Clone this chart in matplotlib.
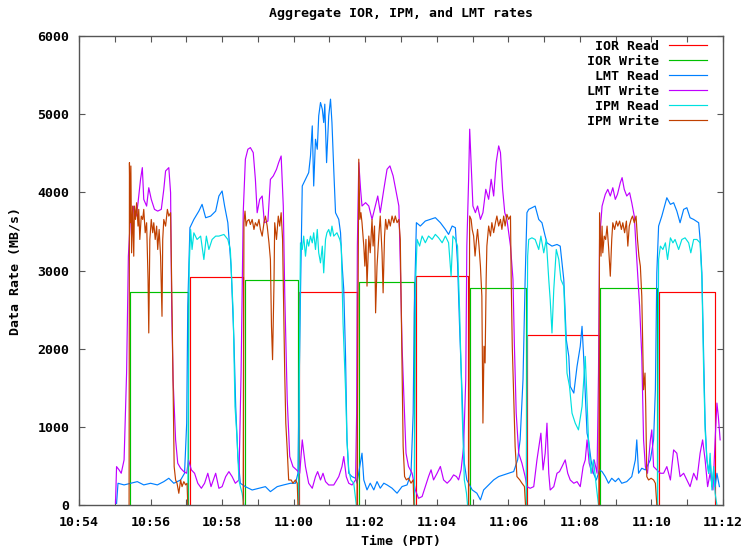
import numpy as np
import pandas as pd
import matplotlib
matplotlib.use('Agg')
import matplotlib.pyplot as plt
import matplotlib.dates as mdates

# time axis: minutes after 10:54
start = pd.Timestamp('2010-06-01 10:54:00')

# IOR aggregate rates are flat steps (start, end, MB/s)
ior_read_start = [3.10, 6.16, 9.41, 12.52, 16.21]
ior_read_end = [4.59, 7.77, 10.86, 14.54, 17.78]
ior_read_rate = [2914, 2720, 2927, 2179, 2731]

ior_write_start = [1.42, 4.63, 7.82, 10.92, 14.57]
ior_write_end = [3.04, 6.12, 9.36, 12.48, 16.15]
ior_write_rate = [2731, 2880, 2855, 2778, 2778]

# LMT server-side rates (minute, MB/s)
lmt_read = [
    (1.05, 20), (1.09, 278), (1.26, 257), (1.44, 278), (1.63, 299), (1.81, 257), (2.00, 278),
    (2.19, 257), (2.37, 299), (2.51, 342), (2.65, 278), (2.84, 320), (2.95, 406), (3.01, 1047),
    (3.04, 2542), (3.10, 3547), (3.21, 3653), (3.35, 3760), (3.44, 3846), (3.54, 3675), (3.68, 3696),
    (3.82, 3760), (3.91, 3953), (4.00, 4017), (4.07, 3824), (4.16, 3611), (4.25, 3055), (4.33, 2115),
    (4.38, 1261), (4.44, 620), (4.51, 278), (4.65, 235), (4.84, 192), (5.03, 214), (5.21, 235),
    (5.35, 171), (5.54, 235), (5.72, 257), (5.91, 278), (6.05, 278), (6.12, 406), (6.17, 2115),
    (6.24, 4081), (6.33, 4166), (6.42, 4252), (6.47, 4465), (6.52, 4850), (6.56, 4081), (6.61, 4679),
    (6.66, 4551), (6.70, 4978), (6.75, 5149), (6.80, 5064), (6.84, 4893), (6.87, 5128), (6.92, 4380),
    (6.98, 4978), (7.03, 5192), (7.07, 4893), (7.12, 4295), (7.17, 3739), (7.26, 3654), (7.31, 3483),
    (7.35, 3098), (7.40, 2756), (7.45, 1902), (7.49, 833), (7.54, 406), (7.63, 363), (7.73, 342),
    (7.77, 279), (7.91, 663), (7.96, 321), (8.05, 193), (8.14, 279), (8.24, 193), (8.33, 300),
    (8.42, 215), (8.52, 279), (8.61, 257), (8.75, 215), (8.89, 151), (9.03, 236), (9.17, 257),
    (9.28, 407), (9.34, 1176), (9.37, 2458), (9.43, 3612), (9.54, 3569), (9.68, 3633), (9.82, 3654),
    (9.96, 3676), (10.10, 3612), (10.24, 3526), (10.33, 3462), (10.43, 3569), (10.52, 3548),
    (10.58, 3099), (10.64, 2244), (10.71, 1390), (10.77, 535), (10.84, 321), (10.99, 193),
    (11.12, 151), (11.22, 65), (11.31, 193), (11.45, 257), (11.59, 321), (11.73, 364), (11.87, 385),
    (12.01, 407), (12.15, 428), (12.26, 578), (12.33, 834), (12.41, 1603), (12.47, 2885),
    (12.52, 3740), (12.57, 3782), (12.66, 3803), (12.75, 3824), (12.85, 3653), (12.94, 3611),
    (13.03, 3440), (13.08, 3354), (13.22, 3312), (13.36, 3333), (13.45, 3312), (13.55, 2884),
    (13.62, 2115), (13.69, 1901), (13.73, 1517), (13.83, 1432), (13.92, 1773), (14.01, 2030),
    (14.06, 2286), (14.10, 1944), (14.15, 1432), (14.20, 919), (14.24, 833), (14.31, 577),
    (14.38, 406), (14.46, 320), (14.55, 449), (14.62, 427), (14.71, 363), (14.80, 278), (14.89, 342),
    (14.99, 299), (15.08, 342), (15.17, 278), (15.31, 299), (15.45, 363), (15.55, 577), (15.59, 833),
    (15.64, 406), (15.73, 470), (15.83, 449), (15.97, 577), (16.06, 833), (16.11, 1474), (16.15, 2970),
    (16.20, 3568), (16.29, 3696), (16.43, 3931), (16.53, 3846), (16.62, 3867), (16.71, 3760),
    (16.80, 3611), (16.90, 3782), (16.99, 3803), (17.08, 3675), (17.18, 3653), (17.32, 3611),
    (17.36, 3397), (17.41, 2970), (17.46, 1901), (17.50, 1047), (17.55, 577), (17.60, 406),
    (17.64, 577), (17.69, 235), (17.74, 449), (17.78, 235), (17.83, 406), (17.90, 235),
]

lmt_write = [
    (1.02, 22), (1.05, 491), (1.12, 449), (1.18, 406), (1.26, 577), (1.33, 1688), (1.38, 3183),
    (1.44, 3696), (1.49, 3653), (1.53, 3824), (1.60, 3696), (1.65, 3867), (1.72, 4166), (1.77, 4316),
    (1.81, 3910), (1.89, 3824), (1.95, 4059), (2.02, 3910), (2.11, 3782), (2.20, 3760), (2.30, 3782),
    (2.37, 4038), (2.42, 4273), (2.51, 4316), (2.56, 3995), (2.59, 2542), (2.63, 1602), (2.70, 833),
    (2.76, 534), (2.84, 470), (2.93, 427), (3.01, 406), (3.06, 577), (3.14, 449), (3.23, 406),
    (3.32, 278), (3.42, 214), (3.51, 278), (3.60, 406), (3.69, 235), (3.82, 406), (3.91, 214),
    (4.00, 235), (4.10, 363), (4.19, 427), (4.28, 363), (4.37, 278), (4.47, 320), (4.53, 1688),
    (4.59, 3739), (4.65, 4423), (4.72, 4551), (4.79, 4572), (4.87, 4508), (4.93, 4166), (4.98, 3739),
    (5.05, 3910), (5.12, 3953), (5.18, 3611), (5.28, 3632), (5.35, 4166), (5.43, 4209), (5.52, 4294),
    (5.58, 4380), (5.65, 4465), (5.71, 3824), (5.75, 2713), (5.82, 1346), (5.89, 620), (5.98, 491),
    (6.08, 449), (6.17, 406), (6.24, 833), (6.33, 491), (6.42, 278), (6.52, 214), (6.61, 363),
    (6.67, 427), (6.75, 320), (6.82, 406), (6.89, 299), (6.98, 256), (7.12, 256), (7.26, 363),
    (7.35, 491), (7.40, 620), (7.47, 363), (7.54, 278), (7.63, 256), (7.73, 320), (7.76, 1176),
    (7.78, 3313), (7.82, 4381), (7.87, 4039), (7.91, 3825), (8.01, 3868), (8.10, 3825), (8.19, 3654),
    (8.28, 3825), (8.35, 3953), (8.42, 3740), (8.52, 4039), (8.61, 4295), (8.69, 4338), (8.78, 4210),
    (8.87, 3996), (8.94, 3825), (8.98, 3099), (9.03, 2031), (9.08, 1390), (9.14, 663), (9.21, 493),
    (9.31, 407), (9.40, 193), (9.49, 86), (9.59, 108), (9.68, 236), (9.77, 364), (9.84, 450),
    (9.91, 321), (10.01, 407), (10.10, 493), (10.19, 321), (10.29, 279), (10.38, 321), (10.47, 385),
    (10.55, 364), (10.61, 321), (10.68, 450), (10.75, 749), (10.81, 1603), (10.84, 3313),
    (10.89, 4167), (10.92, 4808), (10.96, 4381), (11.01, 3825), (11.08, 3740), (11.14, 3825),
    (11.22, 3654), (11.29, 3740), (11.37, 4039), (11.45, 3911), (11.52, 4167), (11.59, 3953),
    (11.66, 4381), (11.73, 4594), (11.78, 4509), (11.84, 4039), (11.90, 3740), (11.96, 3654),
    (12.06, 3313), (12.13, 2885), (12.17, 2031), (12.22, 1176), (12.29, 663), (12.38, 535),
    (12.47, 364), (12.52, 235), (12.61, 214), (12.71, 235), (12.80, 577), (12.88, 833), (12.91, 919),
    (12.97, 449), (13.03, 662), (13.08, 1047), (13.13, 406), (13.17, 192), (13.27, 235), (13.36, 406),
    (13.43, 427), (13.50, 491), (13.59, 577), (13.66, 406), (13.73, 320), (13.83, 278), (13.92, 299),
    (14.01, 235), (14.09, 491), (14.15, 577), (14.20, 833), (14.26, 534), (14.34, 406), (14.40, 577),
    (14.48, 406), (14.52, 1688), (14.55, 3397), (14.62, 3824), (14.71, 3974), (14.78, 4038),
    (14.85, 3953), (14.92, 4059), (14.99, 3910), (15.05, 3974), (15.13, 4124), (15.18, 4188),
    (15.24, 4038), (15.31, 3953), (15.39, 3995), (15.45, 3867), (15.52, 3696), (15.59, 3141),
    (15.67, 2542), (15.73, 1901), (15.78, 833), (15.83, 491), (15.89, 406), (15.97, 833), (16.01, 961),
    (16.06, 491), (16.15, 449), (16.25, 406), (16.34, 406), (16.43, 491), (16.53, 320), (16.62, 705),
    (16.71, 662), (16.80, 363), (16.90, 406), (16.99, 320), (17.08, 235), (17.18, 406), (17.27, 320),
    (17.36, 662), (17.43, 833), (17.50, 577), (17.57, 235), (17.64, 406), (17.72, 192), (17.78, 833),
    (17.83, 1304), (17.87, 1132), (17.90, 961), (17.92, 833),
]

# IPM client-side rates (minute, MB/s)
ipm_read = [
    (3.04, 0), (3.08, 3055), (3.12, 3525), (3.16, 3269), (3.21, 3482), (3.30, 3397), (3.40, 3440),
    (3.49, 3141), (3.56, 3440), (3.63, 3269), (3.72, 3397), (3.82, 3440), (3.91, 3440), (4.05, 3461),
    (4.16, 3397), (4.23, 3269), (4.31, 2457), (4.36, 1261), (4.42, 833), (4.47, 320), (4.51, 235),
    (4.56, 150), (4.61, 0),
    (6.14, 0), (6.17, 2329), (6.19, 3354), (6.24, 3269), (6.28, 3440), (6.33, 3183), (6.38, 3397),
    (6.42, 3312), (6.47, 3440), (6.52, 3354), (6.56, 3483), (6.61, 3269), (6.66, 3525), (6.70, 3226),
    (6.75, 3098), (6.80, 3312), (6.84, 2970), (6.89, 3397), (6.93, 3483), (6.98, 3525), (7.03, 3440),
    (7.07, 3568), (7.12, 3440), (7.21, 3483), (7.29, 3397), (7.33, 3312), (7.38, 2329), (7.45, 1474),
    (7.49, 833), (7.54, 449), (7.60, 320), (7.68, 278), (7.75, 0),
    (9.37, 0), (9.41, 2885), (9.45, 3398), (9.52, 3313), (9.59, 3441), (9.68, 3355), (9.77, 3441),
    (9.87, 3398), (9.96, 3462), (10.05, 3419), (10.15, 3355), (10.24, 3441), (10.33, 3355),
    (10.40, 2928), (10.45, 3441), (10.52, 3398), (10.58, 3313), (10.64, 2458), (10.71, 1176),
    (10.77, 321), (10.83, 151), (10.86, 0),
    (12.50, 0), (12.54, 3183), (12.57, 3397), (12.66, 3418), (12.75, 3397), (12.85, 3269),
    (12.91, 3440), (12.99, 3226), (13.06, 3397), (13.13, 2884), (13.17, 2628), (13.22, 2201),
    (13.27, 2756), (13.34, 3269), (13.41, 3141), (13.47, 2884), (13.55, 2799), (13.64, 1688),
    (13.71, 1517), (13.78, 1175), (13.87, 1047), (13.96, 961), (14.06, 1261), (14.15, 1901),
    (14.20, 1346), (14.24, 833), (14.31, 406), (14.38, 577), (14.46, 235), (14.52, 0),
    (16.17, 0), (16.20, 3141), (16.25, 3312), (16.32, 3269), (16.39, 3354), (16.45, 3141),
    (16.53, 3418), (16.60, 3354), (16.66, 3397), (16.76, 3269), (16.85, 3397), (16.94, 3418),
    (17.04, 3354), (17.10, 3226), (17.18, 3397), (17.27, 3397), (17.36, 3354), (17.41, 2884),
    (17.46, 1688), (17.50, 961), (17.55, 577), (17.60, 406), (17.64, 662), (17.69, 192), (17.74, 491),
    (17.78, 150), (17.83, 0),
]

ipm_write = [
    (1.40, 0), (1.41, 4380), (1.43, 3611), (1.45, 4337), (1.47, 3226), (1.50, 3824), (1.53, 3183),
    (1.55, 3824), (1.58, 3653), (1.61, 3867), (1.65, 3568), (1.67, 3782), (1.70, 3397), (1.74, 3696),
    (1.78, 3653), (1.81, 3782), (1.85, 3483), (1.89, 3611), (1.93, 2884), (1.95, 2201), (1.98, 3397),
    (2.02, 3653), (2.06, 3483), (2.09, 3611), (2.13, 3397), (2.17, 3568), (2.20, 3269), (2.24, 3525),
    (2.28, 3183), (2.32, 2414), (2.34, 3397), (2.37, 3653), (2.42, 3568), (2.47, 3782), (2.51, 3696),
    (2.56, 3739), (2.60, 2542), (2.63, 1474), (2.66, 491), (2.70, 320), (2.74, 278), (2.79, 150),
    (2.84, 320), (2.88, 235), (2.93, 299), (2.98, 257), (3.02, 278), (3.04, 0),
    (4.59, 0), (4.61, 3611), (4.64, 3760), (4.67, 3568), (4.70, 3632), (4.75, 3653), (4.79, 3589),
    (4.84, 3653), (4.89, 3525), (4.93, 3611), (4.98, 3568), (5.03, 3653), (5.07, 3525), (5.12, 3440),
    (5.17, 3611), (5.21, 3696), (5.26, 3568), (5.31, 3354), (5.35, 3141), (5.38, 2286), (5.41, 1859),
    (5.45, 2842), (5.47, 3611), (5.52, 3397), (5.57, 3696), (5.61, 3568), (5.65, 3739), (5.69, 3397),
    (5.72, 2542), (5.75, 1688), (5.78, 1047), (5.82, 705), (5.86, 320), (5.93, 320), (5.98, 278),
    (6.05, 320), (6.10, 278), (6.12, 0),
    (7.77, 0), (7.82, 4424), (7.85, 3654), (7.88, 3740), (7.91, 3612), (7.96, 3313), (7.99, 3056),
    (8.02, 3398), (8.05, 2800), (8.10, 3441), (8.14, 3227), (8.19, 3654), (8.22, 3313), (8.26, 3569),
    (8.29, 2458), (8.33, 3056), (8.38, 3441), (8.42, 3697), (8.47, 3227), (8.50, 2714), (8.54, 3441),
    (8.57, 3654), (8.61, 3526), (8.66, 3654), (8.70, 3569), (8.75, 3697), (8.80, 3612), (8.84, 3697),
    (8.89, 3612), (8.94, 3654), (8.98, 3398), (9.02, 2031), (9.06, 749), (9.10, 364), (9.15, 321),
    (9.21, 343), (9.28, 279), (9.34, 321), (9.36, 0),
    (10.89, 0), (10.92, 3697), (10.96, 3654), (10.99, 3526), (11.03, 3441), (11.07, 3185),
    (11.11, 3398), (11.14, 3526), (11.18, 3313), (11.22, 3056), (11.26, 2671), (11.29, 1048),
    (11.32, 2031), (11.35, 1817), (11.38, 2885), (11.40, 3313), (11.45, 3569), (11.50, 3441),
    (11.54, 3612), (11.59, 3484), (11.64, 3612), (11.68, 3697), (11.73, 3569), (11.78, 3654),
    (11.82, 3526), (11.87, 3697), (11.91, 3569), (11.96, 3718), (12.01, 3654), (12.06, 3697),
    (12.08, 2885), (12.11, 2031), (12.15, 1390), (12.19, 749), (12.24, 364), (12.32, 321),
    (12.38, 279), (12.45, 236), (12.48, 0),
    (14.53, 0), (14.55, 3739), (14.59, 3183), (14.62, 3568), (14.64, 3226), (14.68, 3440),
    (14.72, 3397), (14.76, 3568), (14.80, 3312), (14.85, 2927), (14.89, 3397), (14.92, 3611),
    (14.97, 3525), (15.02, 3632), (15.06, 3568), (15.11, 3632), (15.16, 3525), (15.20, 3611),
    (15.25, 3483), (15.30, 3632), (15.34, 3312), (15.38, 3568), (15.43, 3653), (15.47, 3696),
    (15.52, 3611), (15.57, 3696), (15.61, 3397), (15.65, 3183), (15.69, 3055), (15.73, 2671),
    (15.78, 1474), (15.82, 1688), (15.84, 1261), (15.87, 363), (15.92, 320), (15.99, 342),
    (16.06, 320), (16.11, 278), (16.15, 0),
]


def to_time(minutes):
    return start + pd.to_timedelta(np.asarray(minutes, dtype=float), unit='m')


def steps(starts, ends, rates):
    # each run is a separate pulse, broken by NaN so nothing is drawn along the axis
    t, v = [], []
    for a, b, r in zip(starts, ends, rates):
        t += [a, a, b, b, b]
        v += [0, r, r, 0, np.nan]
    return to_time(t), v


def series(pairs):
    # idle gaps (two zeros in a row) are left undrawn
    t, v = [], []
    prev = None
    for x, y in pairs:
        if prev == 0 and y == 0:
            t.append(x)
            v.append(np.nan)
        t.append(x)
        v.append(y)
        prev = y
    return to_time(t), v


plt.rcParams['font.family'] = ['DejaVu Sans Mono']
plt.rcParams['font.weight'] = 'bold'
plt.rcParams['font.size'] = 9.5

fig = plt.figure(figsize=(7.44, 5.48), dpi=100)
ax = fig.add_axes([79 / 744, 43 / 548, 644 / 744, 469 / 548])

lw = 0.85
ax.plot(*steps(ior_read_start, ior_read_end, ior_read_rate), color='#ff0000', lw=lw, label='IOR Read')
ax.plot(*steps(ior_write_start, ior_write_end, ior_write_rate), color='#00c000', lw=lw, label='IOR Write')
ax.plot(*series(lmt_read), color='#0080ff', lw=lw, label='LMT Read')
ax.plot(*series(lmt_write), color='#c000ff', lw=lw, label='LMT Write')
ax.plot(*series(ipm_read), color='#00e0e0', lw=lw, label='IPM Read')
ax.plot(*series(ipm_write), color='#c04000', lw=lw, label='IPM Write')

ax.set_xlim(start, start + pd.Timedelta(minutes=18))
ax.set_ylim(0, 6000)
ax.set_yticks(range(0, 6001, 1000))
ax.xaxis.set_major_locator(mdates.MinuteLocator(byminute=range(0, 60, 2)))
ax.xaxis.set_minor_locator(mdates.MinuteLocator())
ax.xaxis.set_major_formatter(mdates.DateFormatter('%H:%M'))

for s in ax.spines.values():
    s.set_color('#555555')
    s.set_linewidth(1.0)
ax.tick_params(which='both', direction='in', top=True, right=True, color='#555555', width=0.8, length=4)
ax.tick_params(axis='x', pad=8)
ax.tick_params(axis='y', pad=7)

fig.text(401 / 744, 1 - 13 / 548, 'Aggregate IOR, IPM, and LMT rates', ha='center', va='center')
fig.text(401 / 744, 1 - 541 / 548, 'Time (PDT)', ha='center', va='center')
fig.text(15 / 744, 1 - 271 / 548, 'Data Rate (MB/s)', ha='center', va='center', rotation=90)

ax.legend(loc='upper right', bbox_to_anchor=(0.975, 0.992), frameon=False, markerfirst=False,
          borderpad=0, borderaxespad=0, handlelength=2.9, handletextpad=0.7, labelspacing=0.15)

fig.savefig('out.png', dpi=100)
